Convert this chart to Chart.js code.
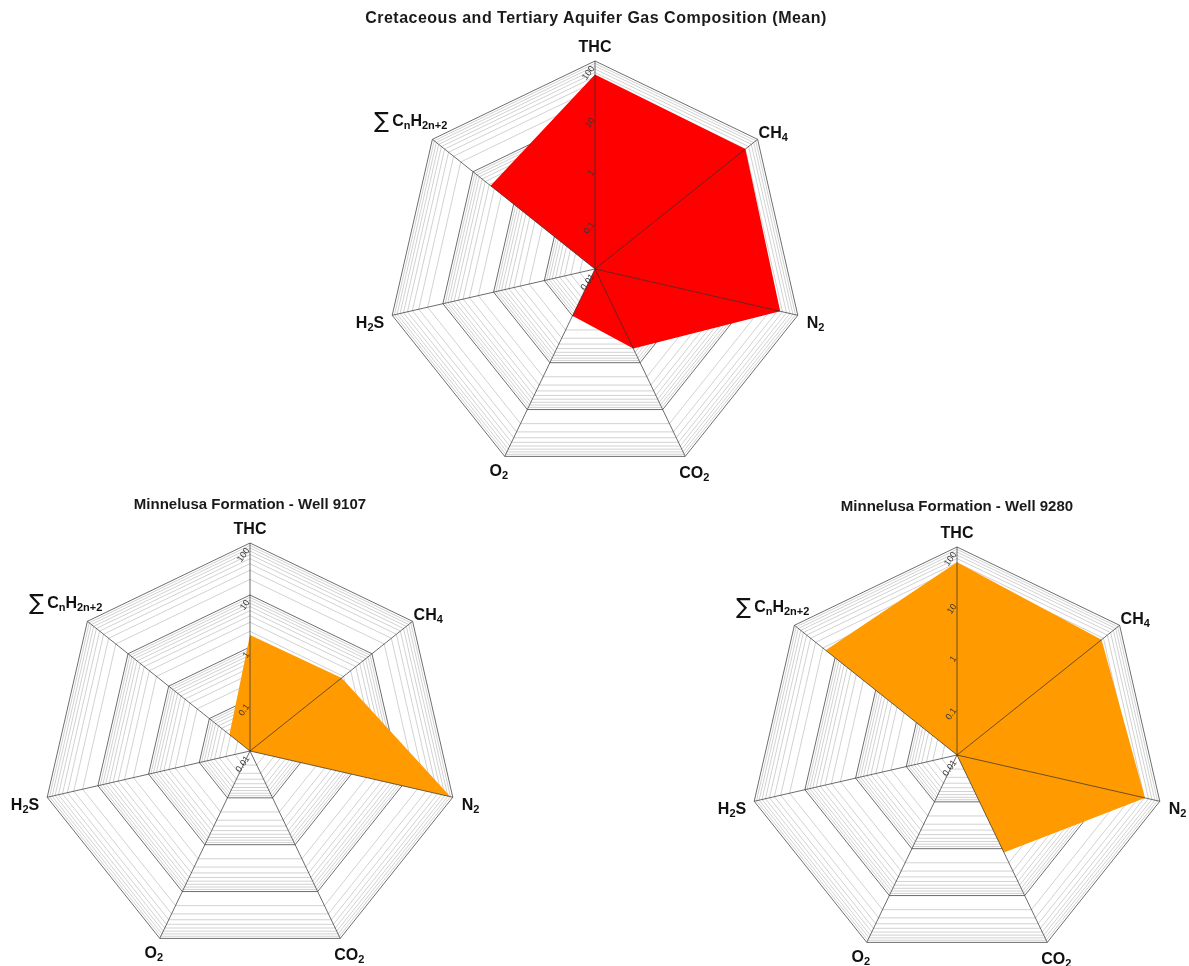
<!DOCTYPE html>
<html>
<head>
<meta charset="utf-8">
<script src="https://cdn.jsdelivr.net/npm/chart.js@4"></script>
<style>
body { margin: 0; background: #fff; width: 1189px; height: 966px; position: relative; overflow: hidden; font-family: "Liberation Sans", Arial, sans-serif; }
canvas { position: absolute; }
.title { position: absolute; font-weight: bold; font-size: 15px; color: #1a1a1a; transform: translate(-50%, -50%); white-space: nowrap; z-index: 2; }
.title.main { font-size: 16px; letter-spacing: 0.5px; }
</style>
</head>
<body>
<canvas id="chartMean" width="500" height="500" style="left:345px;top:19px"></canvas>
<canvas id="chart9107" width="500" height="500" style="left:0px;top:501px"></canvas>
<canvas id="chart9280" width="500" height="500" style="left:707px;top:505px"></canvas>
<div class="title main" style="left:596px;top:18px">Cretaceous and Tertiary Aquifer Gas Composition (Mean)</div>
<div class="title" style="left:250px;top:503px">Minnelusa Formation - Well 9107</div>
<div class="title" style="left:957px;top:505px">Minnelusa Formation - Well 9280</div>
<script>
// axes, clockwise from the top ("_" marks a subscript)
const axisLabels = ['THC', 'CH_4', 'N_2', 'CO_2', 'O_2', 'H_2S', '∑C_nH_{2n+2}'];
const tickValues = [0.01, 0.1, 1, 10, 100];
const tickLabels = ['0.01', '0.1', '1', '10', '100'];

// mean gas composition, log scale
const meanValues = [55, 50, 45, 0.5, 0.1, 0.01, 3.7];
const well9107Values = [1.7, 1.8, 90, 0.01, 0.01, 0.01, 0.032];
const well9280Values = [51, 36, 51, 1.2, 0.01, 0.01, 17];

// label placement relative to the outer vertex: [dx, dy, align]
const labelOffsets = [[0, -13, 'center'], [1, -6, 'left'], [9, 8, 'left'], [9, 17, 'center'],
    [-6, 15, 'center'], [-8, 8, 'right'], [15, -18, 'right']];

// major + minor (2..9) log grid lines
const gridValues = [];
tickValues.forEach((d, i) => {
    if (i === tickValues.length - 1) { gridValues.push(d); return; }
    for (let k = 1; k < 10; k++) gridValues.push(d * k);
});

function parseLabel(s) {
    const parts = [];
    let i = 0, buf = '';
    while (i < s.length) {
        const c = s[i];
        if (c === '∑') {
            if (buf) { parts.push({ text: buf }); buf = ''; }
            parts.push({ text: '∑', sigma: true });
            i++;
        } else if (c === '_') {
            if (buf) { parts.push({ text: buf }); buf = ''; }
            if (s[i + 1] === '{') {
                const end = s.indexOf('}', i);
                parts.push({ text: s.slice(i + 2, end), sub: true });
                i = end + 1;
            } else {
                parts.push({ text: s[i + 1], sub: true });
                i += 2;
            }
        } else { buf += c; i++; }
    }
    if (buf) parts.push({ text: buf });
    return parts;
}

function partFont(p) {
    if (p.sigma) return '22px "DejaVu Sans"';
    if (p.sub) return 'bold 11px "Liberation Sans", Arial';
    return 'bold 16px "Liberation Sans", Arial';
}

function drawRich(ctx, parts, x, y, align) {
    const widths = parts.map(p => { ctx.font = partFont(p); return ctx.measureText(p.text).width + (p.sigma ? 3 : 0); });
    const total = widths.reduce((a, b) => a + b, 0);
    let sx = align === 'left' ? x : align === 'right' ? x - total : x - total / 2;
    parts.forEach((p, i) => {
        ctx.font = partFont(p);
        ctx.fillText(p.text, sx, y + (p.sub ? 5 : 0) + (p.sigma ? 1 : 0));
        sx += widths[i];
    });
}

const overlayPlugin = {
    id: 'overlay',
    afterDatasetsDraw(chart) {
        const ctx = chart.ctx;
        const scale = chart.scales.r;
        const n = chart.data.labels.length;
        ctx.save();
        // spokes drawn over the fill
        ctx.strokeStyle = 'rgba(45,45,45,0.7)';
        ctx.lineWidth = 1;
        for (let i = 0; i < n; i++) {
            const p = scale.getPointPosition(i, scale.drawingArea);
            ctx.beginPath();
            ctx.moveTo(scale.xCenter, scale.yCenter);
            ctx.lineTo(p.x, p.y);
            ctx.stroke();
        }
        // rotated tick labels along the first axis
        ctx.fillStyle = '#333';
        ctx.font = '9px "Liberation Sans", Arial';
        ctx.textAlign = 'right';
        ctx.textBaseline = 'middle';
        tickValues.forEach((v, i) => {
            const p = scale.getPointPositionForValue(0, Math.log10(v));
            ctx.save();
            ctx.translate(p.x - 2, p.y + 6);
            ctx.rotate(-Math.PI * 0.3);
            ctx.fillText(tickLabels[i], 0, 0);
            ctx.restore();
        });
        // axis labels
        ctx.fillStyle = '#111';
        ctx.textAlign = 'left';
        ctx.textBaseline = 'middle';
        chart.data.labels.forEach((lab, i) => {
            const p = scale.getPointPosition(i, scale.drawingArea);
            const off = labelOffsets[i];
            drawRich(ctx, parseLabel(lab), p.x + off[0], p.y + off[1], off[2]);
        });
        ctx.restore();
    }
};

function makeRadar(id, values, color) {
    new Chart(document.getElementById(id), {
        type: 'radar',
        data: {
            labels: axisLabels,
            datasets: [{
                data: values.map(v => Math.log10(v)),
                backgroundColor: color,
                borderWidth: 0,
                pointRadius: 0,
                fill: 'start'
            }]
        },
        options: {
            responsive: false,
            animation: false,
            devicePixelRatio: 1,
            layout: { padding: 42 },
            plugins: { legend: { display: false }, tooltip: { enabled: false } },
            scales: {
                r: {
                    min: -2,
                    max: 2,
                    afterBuildTicks: scale => {
                        scale.ticks = gridValues.map(v => ({ value: Math.log10(v) }));
                    },
                    ticks: { display: false },
                    pointLabels: { display: false },
                    angleLines: { display: false },
                    grid: {
                        lineWidth: 1,
                        color: ctx => {
                            const v = ctx.tick ? ctx.tick.value : 0;
                            return Math.abs(v - Math.round(v)) < 1e-6 ? '#6e6e6e' : '#d2d2d2';
                        }
                    }
                }
            }
        },
        plugins: [overlayPlugin]
    });
}

makeRadar('chartMean', meanValues, '#FF0000');
makeRadar('chart9107', well9107Values, '#FF9A00');
makeRadar('chart9280', well9280Values, '#FF9A00');
</script>
</body>
</html>
